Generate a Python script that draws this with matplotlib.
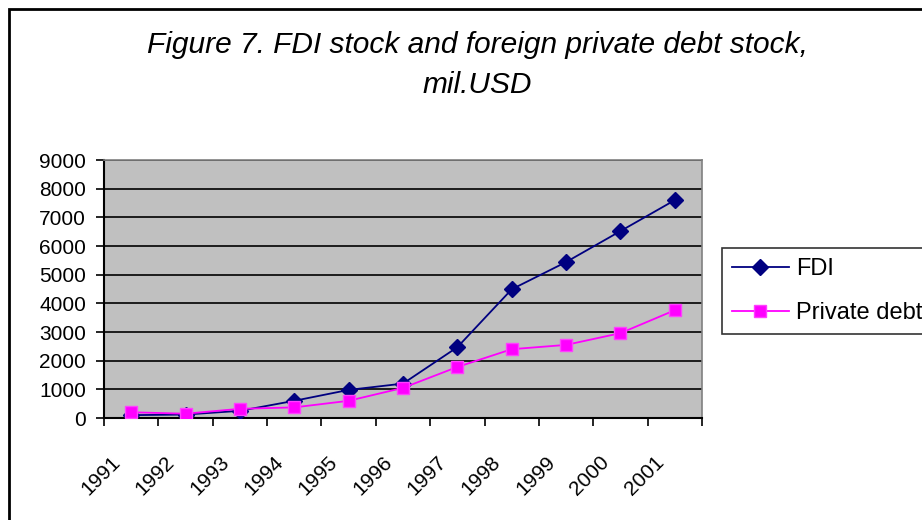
import numpy as np
import matplotlib
matplotlib.use('Agg')
import matplotlib.pyplot as plt
import matplotlib.transforms as mtransforms
from matplotlib.patches import Rectangle

# data
years = ['1991', '1992', '1993', '1994', '1995', '1996',
         '1997', '1998', '1999', '2000', '2001']
fdi = [100, 120, 250, 600, 980, 1200, 2470, 4490, 5440, 6520, 7600]
private_debt = [200, 150, 320, 370, 600, 1050, 1780, 2400, 2550, 2960, 3760]
y_ticks = list(range(0, 9001, 1000))

plt.rcParams['font.family'] = ['Liberation Sans', 'DejaVu Sans']

W, H = 922, 520
fig = plt.figure(figsize=(W / 100, H / 100), dpi=100, facecolor='white')

# outer chart border (only left/top visible in the reference)
fig.patches.append(Rectangle((9 / W, -0.2), 2, 1.2 - 9 / H, transform=fig.transFigure,
                             fill=False, edgecolor='black', linewidth=2))

fig.text(477 / W, 1 - 45 / H, 'Figure 7. FDI stock and foreign private debt stock,',
         ha='center', va='center', fontsize=21.5, style='italic')
fig.text(477 / W, 1 - 85 / H, 'mil.USD',
         ha='center', va='center', fontsize=21.5, style='italic')

ax = fig.add_axes([104 / W, 1 - 418 / H, 598 / W, 258 / H])
ax.set_facecolor('#c0c0c0')

x = np.arange(len(years)) + 0.5
ax.plot(x, fdi, color='#000080', marker='D', markersize=8, linewidth=1.3,
        label='FDI', zorder=3)
ax.plot(x, private_debt, color='#ff00ff', marker='s', markersize=8, linewidth=1.3,
        markerfacecolor='#ff00ff', markeredgecolor='#ff40ff', label='Private debt', zorder=3)

ax.set_xlim(0, len(years))
ax.set_ylim(0, 9000)
ax.set_yticks(y_ticks)
ax.set_yticklabels([str(v) for v in y_ticks], fontsize=15)
ax.yaxis.grid(True, color='black', linewidth=1.2)
ax.set_axisbelow(True)

ax.set_xticks(np.arange(len(years) + 1))
ax.set_xticklabels([])
ax.tick_params(axis='both', direction='out', length=6, width=1.2, color='black')
ax.tick_params(axis='y', pad=7)

for side in ['left', 'bottom']:
    ax.spines[side].set_color('black')
    ax.spines[side].set_linewidth(1.5)
for side in ['top', 'right']:
    ax.spines[side].set_color('#808080')
    ax.spines[side].set_linewidth(1.2)

# rotated year labels, anchored at their right end
for xi, lab in zip(x, years):
    off = mtransforms.ScaledTranslation(-14 / 100, -41 / 100, fig.dpi_scale_trans)
    trans = mtransforms.blended_transform_factory(ax.transData, ax.transAxes) + off
    ax.text(xi, 0, lab, transform=trans, rotation=45, rotation_mode='anchor',
            ha='right', va='center', fontsize=15)

leg = fig.legend(loc='upper left', bbox_to_anchor=(722 / W, 1 - 248 / H),
                 fontsize=17, frameon=True, fancybox=False, edgecolor='black',
                 handlelength=2.4, borderpad=0.42, labelspacing=0.95,
                 handletextpad=0.3, borderaxespad=0)
leg.get_frame().set_linewidth(1.2)

fig.savefig('out.png', dpi=100, facecolor='white')
